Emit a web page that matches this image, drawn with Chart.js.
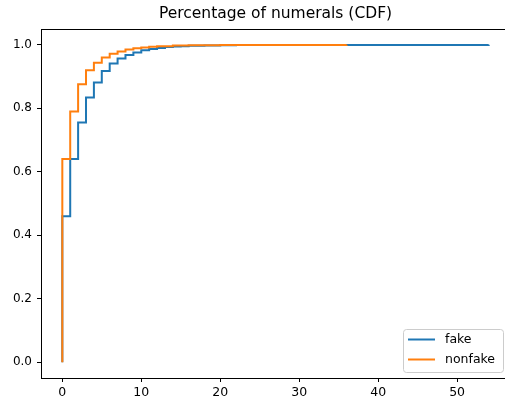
<!DOCTYPE html>
<html>
<head>
<meta charset="utf-8">
<script src="https://cdn.jsdelivr.net/npm/chart.js@4/dist/chart.umd.min.js"></script>
<style>
  html, body { margin: 0; padding: 0; background: #fff; overflow: hidden; }
  #wrap { width: 520px; height: 402px; }
</style>
</head>
<body>
<div id="wrap"><canvas id="cdfChart" width="520" height="402"></canvas></div>
<script>
// CDF step points
const fakeX = [0, 0, 1, 2, 3, 4, 5, 6, 7, 8, 9, 10, 11, 12, 13, 14, 15, 16, 18, 20, 22, 54];
const fakeY = [0, 0.46, 0.64, 0.755, 0.834, 0.881, 0.918, 0.941, 0.957, 0.968, 0.976, 0.983, 0.987, 0.990, 0.993, 0.995, 0.996, 0.997, 0.998, 0.999, 0.9995, 1.0];

const nonfakeX = [0, 0, 1, 2, 3, 4, 5, 6, 7, 8, 9, 10, 11, 12, 14, 16, 20, 36];
const nonfakeY = [0, 0.64, 0.79, 0.876, 0.92, 0.944, 0.96, 0.972, 0.979, 0.985, 0.989, 0.992, 0.994, 0.996, 0.998, 0.999, 0.9995, 1.0];

const xTicks = [0, 10, 20, 30, 40, 50];
const yTicks = [0, 0.2, 0.4, 0.6, 0.8, 1.0];

const chartTitle = "Percentage of numerals (CDF)";
const seriesLabels = ["fake", "nonfake"];
const seriesColors = ["#1f77b4", "#ff7f0e"];

function toPoints(xs, ys) {
    return xs.map((x, i) => ({ x: x, y: ys[i] }));
}

const FONT = "'DejaVu Sans', sans-serif";

// title drawn by hand so it sits like matplotlib's
const titlePlugin = {
    id: 'mplTitle',
    afterDraw(chart) {
        const ctx = chart.ctx;
        const a = chart.chartArea;
        ctx.save();
        ctx.font = "15.5px " + FONT;
        ctx.fillStyle = "#000";
        ctx.textAlign = "center";
        ctx.textBaseline = "middle";
        ctx.fillText(chartTitle, (a.left + a.right) / 2, 14);
        ctx.restore();
    }
};

// legend box in the lower right, matplotlib style
const legendPlugin = {
    id: 'mplLegend',
    afterDraw(chart) {
        const ctx = chart.ctx;
        const bx = 403, by = 329, bw = 100, bh = 43, r = 3;
        ctx.save();
        ctx.fillStyle = "rgba(255,255,255,0.8)";
        ctx.strokeStyle = "#cccccc";
        ctx.lineWidth = 1;
        ctx.beginPath();
        ctx.roundRect(bx + 0.5, by + 0.5, bw, bh, r);
        ctx.fill();
        ctx.stroke();
        ctx.font = "12.5px " + FONT;
        ctx.textBaseline = "middle";
        ctx.fillStyle = "#000";
        chart.data.datasets.forEach((ds, i) => {
            const y = by + 10.5 + i * 20;
            ctx.strokeStyle = ds.borderColor;
            ctx.lineWidth = 2;
            ctx.beginPath();
            ctx.moveTo(bx + 5, y);
            ctx.lineTo(bx + 32, y);
            ctx.stroke();
            ctx.fillText(ds.label, bx + 42, y);
        });
        ctx.restore();
    }
};

// full box frame around the axes
const framePlugin = {
    id: 'frame',
    afterDatasetsDraw(chart) {
        const ctx = chart.ctx;
        const a = chart.chartArea;
        ctx.save();
        ctx.strokeStyle = "#000";
        ctx.lineWidth = 1;
        ctx.strokeRect(Math.round(a.left) + 0.5, Math.round(a.top) + 0.5, Math.round(a.right - a.left), Math.round(a.bottom - a.top));
        ctx.restore();
    }
};

const ctx = document.getElementById('cdfChart').getContext('2d');
new Chart(ctx, {
    type: 'line',
    data: {
        datasets: [
            {
                label: seriesLabels[0],
                data: toPoints(fakeX, fakeY),
                borderColor: seriesColors[0],
                backgroundColor: seriesColors[0],
                borderWidth: 2,
                pointRadius: 0,
                stepped: true,
                fill: false,
                order: 1
            },
            {
                label: seriesLabels[1],
                data: toPoints(nonfakeX, nonfakeY),
                borderColor: seriesColors[1],
                backgroundColor: seriesColors[1],
                borderWidth: 2,
                pointRadius: 0,
                stepped: true,
                fill: false,
                order: 0
            }
        ]
    },
    options: {
        responsive: false,
        animation: false,
        layout: { padding: { top: 29, right: 10, left: 0, bottom: 0 } },
        plugins: {
            legend: { display: false },
            title: { display: false },
            tooltip: { enabled: false }
        },
        scales: {
            x: {
                type: 'linear',
                min: -2.7,
                max: 56.7,
                afterBuildTicks: scale => { scale.ticks = xTicks.map(v => ({ value: v })); },
                afterFit: scale => { scale.height = 24; },
                ticks: {
                    color: "#000",
                    font: { family: FONT, size: 12.5 },
                    padding: 3,
                    maxRotation: 0,
                    callback: v => String(v)
                },
                grid: { drawOnChartArea: false, tickLength: 4, color: "#000", tickColor: "#000" },
                border: { display: false }
            },
            y: {
                type: 'linear',
                min: -0.05,
                max: 1.05,
                afterBuildTicks: scale => { scale.ticks = yTicks.map(v => ({ value: v })); },
                afterFit: scale => { scale.width = 41; },
                ticks: {
                    color: "#000",
                    font: { family: FONT, size: 12 },
                    padding: 5,
                    callback: v => v.toFixed(1)
                },
                grid: { drawOnChartArea: false, tickLength: 4, color: "#000", tickColor: "#000" },
                border: { display: false }
            }
        }
    },
    plugins: [titlePlugin, legendPlugin, framePlugin]
});
</script>
</body>
</html>
